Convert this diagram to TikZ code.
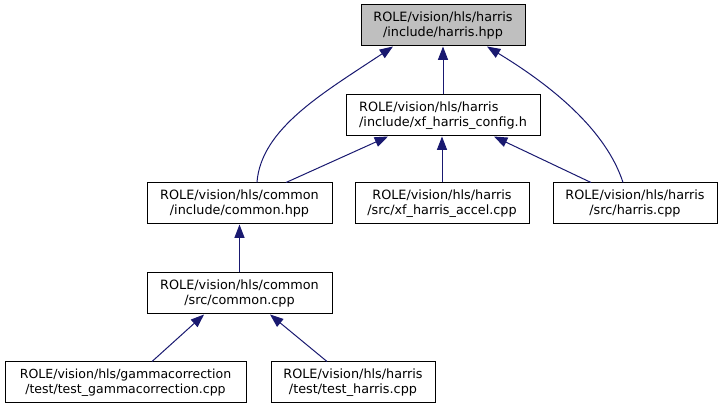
\documentclass[tikz,border=0pt]{standalone}
\usepackage{fontspec}
\setmainfont{DejaVu Sans}
\usetikzlibrary{arrows.meta}
\definecolor{edgeblue}{HTML}{191970}
\definecolor{rootgray}{HTML}{BFBFBF}
\tikzset{
  filebox/.style={draw=black, line width=0.75pt, fill=white, minimum height=30.75pt,
    inner sep=0pt, align=center, font=\fontsize{9.6}{11.6}\selectfont},
  incl/.style={draw=edgeblue, line width=0.75pt, -{Triangle[length=10pt,width=7.5pt]}},
}
\begin{document}
\begin{tikzpicture}[x=0.75pt,y=-0.75pt]
\useasboundingbox (0,0) rectangle (722,409);
\node[filebox, fill=rootgray, minimum width=123pt] (top) at (443,25.5) {ROLE/vision/hls/harris\\/include/harris.hpp};
\node[filebox, align=left, minimum width=145.5pt] (config) at (443,115.5) {ROLE/vision/hls/harris\\/include/xf\_harris\_config.h};
\node[filebox, minimum width=138.75pt] (chpp) at (239.5,203.5) {ROLE/vision/hls/common\\/include/common.hpp};
\node[filebox, minimum width=130.5pt] (accel) at (442,203.5) {ROLE/vision/hls/harris\\/src/xf\_harris\_accel.cpp};
\node[filebox, minimum width=123pt] (hcpp) at (635,203.5) {ROLE/vision/hls/harris\\/src/harris.cpp};
\node[filebox, minimum width=138.75pt] (ccpp) at (239.5,293.5) {ROLE/vision/hls/common\\/src/common.cpp};
\node[filebox, minimum width=180.75pt, font=\fontsize{9.4}{11.6}\selectfont] (gamma) at (125.5,382.5) {ROLE/vision/hls/gammacorrection\\/test/test\_gammacorrection.cpp};
\node[filebox, minimum width=123pt] (thar) at (353,382.5) {ROLE/vision/hls/harris\\/test/test\_harris.cpp};

\draw[incl] ([xshift=13.1pt]chpp.north) .. controls (261,128) and (325,92) .. ([xshift=-37.5pt]top.south);
\draw[incl] (config.north) -- (top.south);
\draw[incl] ([xshift=-9pt]hcpp.north) .. controls (606,130) and (552,86) .. ([xshift=33pt]top.south);
\draw[incl] ([xshift=34.9pt]chpp.north) -- ([xshift=-41.25pt]config.south);
\draw[incl] (accel.north) -- (accel.north |- config.south);
\draw[incl] ([xshift=-33pt]hcpp.north) -- ([xshift=38.25pt]config.south);
\draw[incl] (ccpp.north) -- (chpp.south);
\draw[incl] ([xshift=19.9pt]gamma.north) -- ([xshift=-26.6pt]ccpp.south);
\draw[incl] ([xshift=-19.5pt]thar.north) -- ([xshift=22.9pt]ccpp.south);
\end{tikzpicture}
\end{document}
